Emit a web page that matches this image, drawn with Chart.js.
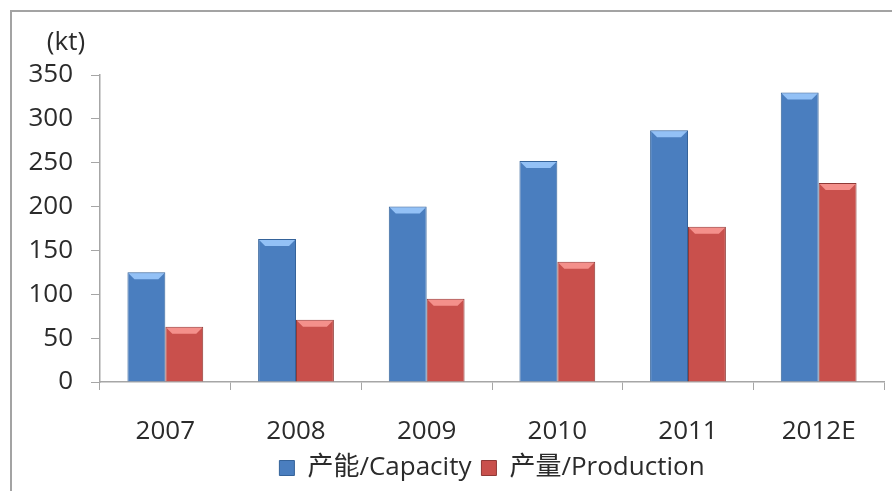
<!DOCTYPE html>
<html>
<head>
<meta charset="utf-8">
<script src="https://cdn.jsdelivr.net/npm/chart.js@4/dist/chart.umd.min.js"></script>
<style>
  html, body { margin: 0; padding: 0; background: #fff; overflow: hidden; }
  #frame { position: absolute; left: 10px; top: 10px; width: 1000px; height: 1000px; border: 2px solid #a3a3a3; }
  #wrap { position: absolute; left: 0; top: 0; width: 892px; height: 491px; }
</style>
</head>
<body>
<div id="frame"></div>
<div id="wrap"><canvas id="chart"></canvas></div>
<script>
// categories and values
const years = ['2007', '2008', '2009', '2010', '2011', '2012E'];
const capacity = [125, 163, 200, 252, 287, 330];
const production = [63, 71, 95, 137, 177, 227];
const seriesNames = ['产能/Capacity', '产量/Production'];
const unitLabel = '(kt)';

const FONT = "'Open Sans', 'Noto Sans CJK SC', sans-serif";
const axisGray = '#a6a6a6';

// draws "(kt)" over the y ticks
const unitPlugin = {
  id: 'unit',
  afterDraw(chart) {
    const c = chart.ctx;
    c.save();
    c.font = '26px ' + FONT;
    c.fillStyle = '#2b2b2b';
    c.textAlign = 'center';
    c.textBaseline = 'middle';
    c.fillText(unitLabel, 66, 43);
    c.restore();
  }
};

// a little bevel on top of each bar, like the office 3d style
const bevelPlugin = {
  id: 'bevel',
  afterDatasetsDraw(chart) {
    const c = chart.ctx;
    const tops = ['rgba(160,205,255,0.85)', 'rgba(255,160,155,0.8)'];
    chart.data.datasets.forEach((ds, i) => {
      chart.getDatasetMeta(i).data.forEach(bar => {
        const w = bar.width, x0 = bar.x - w / 2, x1 = bar.x + w / 2, y = bar.y;
        const d = 7;
        c.save();
        c.fillStyle = tops[i];
        c.beginPath();
        c.moveTo(x0 + 1, y + 1);
        c.lineTo(x1 - 1, y + 1);
        c.lineTo(x1 - d, y + d);
        c.lineTo(x0 + d, y + d);
        c.closePath();
        c.fill();
        c.restore();
      });
    });
  }
};

const data = {
  labels: years,
  datasets: [{
    label: seriesNames[0],
    data: capacity,
    backgroundColor: '#4a7ebf',
    borderColor: '#35639a',
    borderWidth: 1
  },
  {
    label: seriesNames[1],
    data: production,
    backgroundColor: '#c9504c',
    borderColor: '#8f3936',
    borderWidth: 1
  }]
};

const options = {
  responsive: true,
  maintainAspectRatio: false,
  animation: false,
  devicePixelRatio: 1,
  layout: { padding: { top: 75, right: 8, left: 0, bottom: 0 } },
  datasets: { bar: { categoryPercentage: 0.58, barPercentage: 1.0 } },
  scales: {
    x: {
      grid: { drawOnChartArea: false, drawTicks: true, tickLength: 8, color: axisGray, offset: true },
      border: { color: axisGray, width: 1.5 },
      ticks: { color: '#2b2b2b', font: { family: FONT, size: 26 }, padding: 26 },
      afterFit(scale) { scale.height = 63; }
    },
    y: {
      min: 0,
      max: 350,
      grid: { drawOnChartArea: false, drawTicks: true, tickLength: 9, color: axisGray },
      border: { color: axisGray, width: 1.5 },
      ticks: { stepSize: 50, color: '#2b2b2b', font: { family: FONT, size: 26 }, padding: 18 },
      afterFit(scale) { scale.width = 100; }
    }
  },
  plugins: {
    legend: {
      position: 'bottom',
      fullSize: false,
      labels: {
        color: '#2b2b2b',
        font: { family: FONT, size: 26 },
        boxWidth: 15,
        boxHeight: 15,
        padding: 10
      }
    },
    tooltip: { enabled: false }
  }
};

const chart = new Chart(document.getElementById('chart'), {
  type: 'bar',
  data: data,
  options: options,
  plugins: [unitPlugin, bevelPlugin]
});
</script>
</body>
</html>
